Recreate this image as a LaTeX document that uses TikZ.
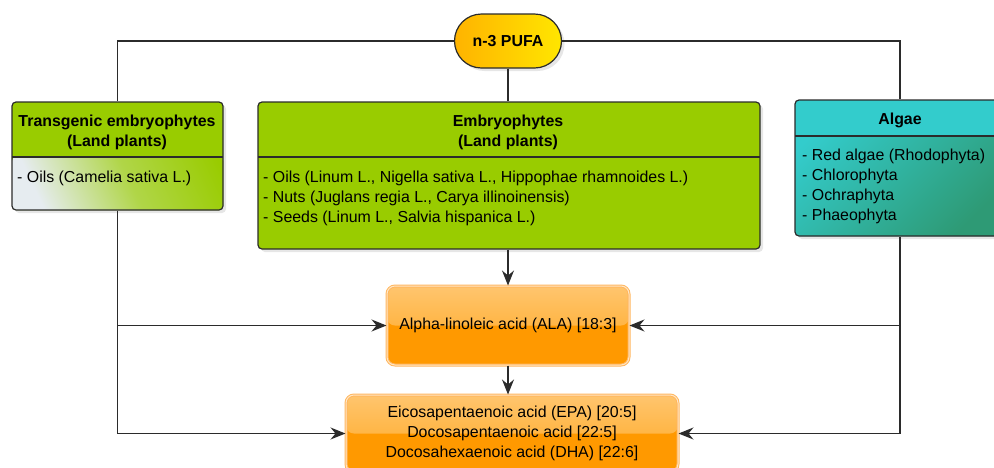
\documentclass[tikz,border=0pt]{standalone}
\usepackage{fontspec}
\setmainfont{Liberation Sans}
\usetikzlibrary{arrows.meta,shadows}

\definecolor{leafgreen}{HTML}{99CC00}
\definecolor{mist}{HTML}{E6ECF0}
\definecolor{algateal}{HTML}{33CCCC}
\definecolor{algadark}{HTML}{2E9A75}
\definecolor{edge}{HTML}{2B2B2B}
\definecolor{pufaleft}{HTML}{FFB300}
\definecolor{pufaright}{HTML}{FFE600}
\definecolor{orangefill}{HTML}{FF9900}
\definecolor{orangetop}{HTML}{FFC56E}
\definecolor{orangemid}{HTML}{FFA61C}
\definecolor{orangeedge}{HTML}{FFB65E}
\definecolor{orangepale}{HTML}{FFE6C4}

\tikzset{
	txt/.style={font=\fontsize{15.9}{20}\selectfont, inner sep=0pt},
	ttl/.style={font=\fontsize{15.9}{20}\selectfont\bfseries, inner sep=0pt, align=center},
	box/.style={draw=edge, line width=1.2pt, rounded corners=4pt,
		drop shadow={opacity=0.2, shadow xshift=3pt, shadow yshift=-3pt}},
	glassbox/.style={draw=orangeedge, double=orangepale, double distance=1pt, line width=1pt,
		rounded corners=8pt, fill=orangefill, txt, align=center,
		path picture={\shade[top color=orangetop, bottom color=orangemid]
			(path picture bounding box.north west) rectangle (path picture bounding box.east);}},
	link/.style={line width=1.2pt, color=edge},
	arrow/.style={link, -{Stealth[length=15pt, width=12pt, inset=5pt]}}
}

\begin{document}
\begin{tikzpicture}[x=1pt, y=-1pt]
		%%%%% START %%%%%
		\useasboundingbox (0, 0) rectangle (994, 467);
		
		\node[box, rounded corners=27pt, left color=pufaleft, right color=pufaright,
			minimum width=107pt, minimum height=54pt, ttl] (pufa) at (508, 41) {n-3 PUFA};
		
		\node[box, fill=leafgreen, minimum width=211pt, minimum height=108pt, path picture={
			\shade[left color=mist, right color=leafgreen, middle color=leafgreen!70!mist, shading angle=115]
				([yshift=-55pt]path picture bounding box.north west) rectangle (path picture bounding box.south east);
			\draw[line width=1.2pt, color=edge] ([yshift=-55pt]path picture bounding box.north west)
				-- ([yshift=-55pt]path picture bounding box.north east);}] (trans) at (117.5, 156) {};
		\node[ttl] (transtitle) at (117, 132) {Transgenic embryophytes\\(Land plants)};
		\node[txt, anchor=west] (transitems) at (17, 178) {- Oils (Camelia sativa L.)};
		
		\node[box, fill=leafgreen, minimum width=502pt, minimum height=147pt, path picture={
			\draw[line width=1.2pt, color=edge] ([yshift=-55pt]path picture bounding box.north west)
				-- ([yshift=-55pt]path picture bounding box.north east);}] (embryo) at (509, 175.5) {};
		\node[ttl] (embryotitle) at (508, 132) {Embryophytes\\(Land plants)};
		\node[txt, anchor=west, align=left] (embryoitems) at (263, 198) {- Oils (Linum L., Nigella sativa L., Hippophae rhamnoides L.)\\- Nuts (Juglans regia L., Carya illinoinensis)\\- Seeds (Linum L., Salvia hispanica L.)};
		
		\node[box, fill=algateal, minimum width=210pt, minimum height=136pt, path picture={
			\shade[top color=algateal, bottom color=algadark, shading angle=45]
				([yshift=-36pt]path picture bounding box.north west) rectangle (path picture bounding box.south east);
			\draw[line width=1.2pt, color=edge] ([yshift=-36pt]path picture bounding box.north west)
				-- ([yshift=-36pt]path picture bounding box.north east);}] (algae) at (900, 168) {};
		\node[ttl] (algaetitle) at (900, 120) {Algae};
		\node[txt, anchor=west, align=left] (algaeitems) at (802, 186) {- Red algae (Rhodophyta)\\- Chlorophyta\\- Ochraphyta\\- Phaeophyta};
		
		\node[glassbox, minimum width=242pt, minimum height=79pt] (ala) at (508, 325.5) {Alpha-linoleic acid (ALA) [18:3]};
		\node[glassbox, minimum width=332pt, minimum height=77pt] (fam) at (512, 433.5) {Eicosapentaenoic acid (EPA) [20:5]\\Docosapentaenoic acid [22:5]\\Docosahexaenoic acid (DHA) [22:6]};
		
		\draw[link] (pufa.west) -| (trans.north);
		\draw[link] (pufa.east) -| (algae.north);
		\draw[link] (pufa.south) -- (pufa.south |- embryo.north);
		
		\draw[arrow] (ala.north |- embryo.south) -- (ala.north);
		\draw[arrow] (ala.south) -- (ala.south |- fam.north);
		
		\draw[arrow] (trans.south) |- (fam.west);
		\draw[arrow] (trans.south |- ala.west) -- (ala.west);
		\draw[arrow] (algae.south) |- (fam.east);
		\draw[arrow] (algae.south |- ala.east) -- (ala.east);
		
		%%%%% END %%%%%
	\end{tikzpicture}
\end{document}
